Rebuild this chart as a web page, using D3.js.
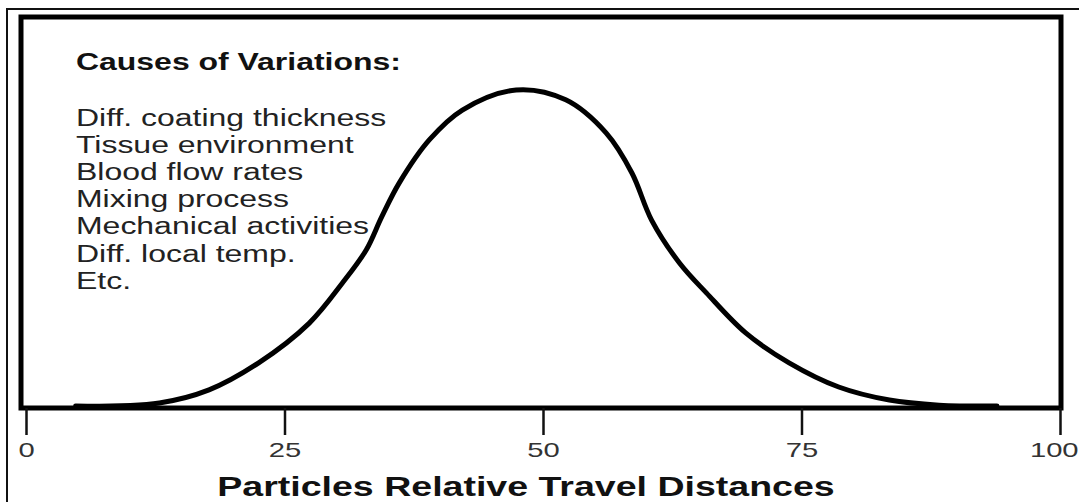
<!DOCTYPE html>
<html>
  <head>
    <script src="https://cdn.jsdelivr.net/npm/d3@7"></script>
    <style>
      body { margin: 0; background: #fff; }
      text { font-family: "Liberation Sans", Arial, sans-serif; }
    </style>
  </head>
  <body>
    <svg id="bell" width="1079" height="502"></svg>
    <script>
    // curve: relative travel distance vs. relative frequency (peak = 100)
    var distance  = [4.8, 12.9, 17.7, 22.5, 27.4, 30.6, 32.9, 34.4, 36.1, 39.0, 42.2, 47.4,
                     52.2, 56.1, 58.6, 60.5, 63.2, 65.8, 69.6, 73.8, 78.6, 83.5, 88.3, 93.9];
    var frequency = [0.6, 1.6, 5.7, 14.2, 26.7, 39.3, 49.7, 60.1, 70.8, 84.3, 93.7, 100,
                     96.9, 86.5, 73.9, 59.1, 45.6, 36.2, 23.6, 14.2, 6.6, 2.5, 0.9, 0.6];
    var xTicks = [0, 25, 50, 75, 100];
    var causesTitle = "Causes of Variations:";
    var causes = ["Diff. coating thickness", "Tissue environment", "Blood flow rates",
                  "Mixing process", "Mechanical activities", "Diff. local temp.", "Etc."];
    var axisTitle = "Particles Relative Travel Distances";

    var svg = d3.select("#bell");
    var stretch = 1.39; // source picture is stretched sideways

    var x = d3.scaleLinear().domain([0, 100]).range([26, 1060]);
    var y = d3.scaleLinear().domain([0, 100]).range([408, 90]);

    // thin outer frame
    svg.append("path")
      .attr("d", "M7,502 V9 H1079")
      .attr("fill", "none")
      .attr("stroke", "#111")
      .attr("stroke-width", 2);

    // thick plot frame, bottom edge doubles as the axis line
    svg.append("rect")
      .attr("x", 21).attr("y", 17)
      .attr("width", 1040).attr("height", 391)
      .attr("fill", "none")
      .attr("stroke", "#000")
      .attr("stroke-width", 5);

    var axis = svg.append("g")
      .attr("transform", "translate(0,408)")
      .call(d3.axisBottom(x).tickValues(xTicks).tickSize(27).tickPadding(7));
    axis.select(".domain").remove();
    axis.selectAll(".tick line").attr("stroke", "#111").attr("stroke-width", 2.5);
    axis.selectAll(".tick text")
      .attr("font-size", 21)
      .attr("fill", "#333")
      .attr("font-family", "Liberation Sans, Arial, sans-serif")
      .attr("text-anchor", function(d){ return d === 100 ? "end" : "middle"; })
      .attr("x", function(d){ return d === 100 ? 13 : 0; })
      .attr("transform", "scale(" + stretch + ",1)");

    var pts = distance.map(function(d, i){ return [d, frequency[i]]; });
    svg.append("path")
      .datum(pts)
      .attr("d", d3.line()
        .x(function(d){ return x(d[0]); })
        .y(function(d){ return y(d[1]); })
        .curve(d3.curveCatmullRom.alpha(0.5)))
      .attr("fill", "none")
      .attr("stroke", "#000")
      .attr("stroke-width", 5)
      .attr("stroke-linecap", "round");

    svg.append("text")
      .attr("transform", "translate(76,70) scale(" + stretch + ",1)")
      .attr("font-size", 23)
      .attr("font-weight", "bold")
      .attr("fill", "#111")
      .text(causesTitle);

    svg.append("g").selectAll("text")
      .data(causes)
      .enter().append("text")
      .attr("transform", function(d, i){
        return "translate(76," + (126 + i * 27.1) + ") scale(" + stretch + ",1)";
      })
      .attr("font-size", 23)
      .attr("fill", "#222")
      .text(function(d){ return d; });

    svg.append("text")
      .attr("transform", "translate(526,496) scale(" + stretch + ",1)")
      .attr("text-anchor", "middle")
      .attr("font-size", 27)
      .attr("font-weight", "bold")
      .attr("fill", "#111")
      .text(axisTitle);
    </script>
  </body>
</html>
